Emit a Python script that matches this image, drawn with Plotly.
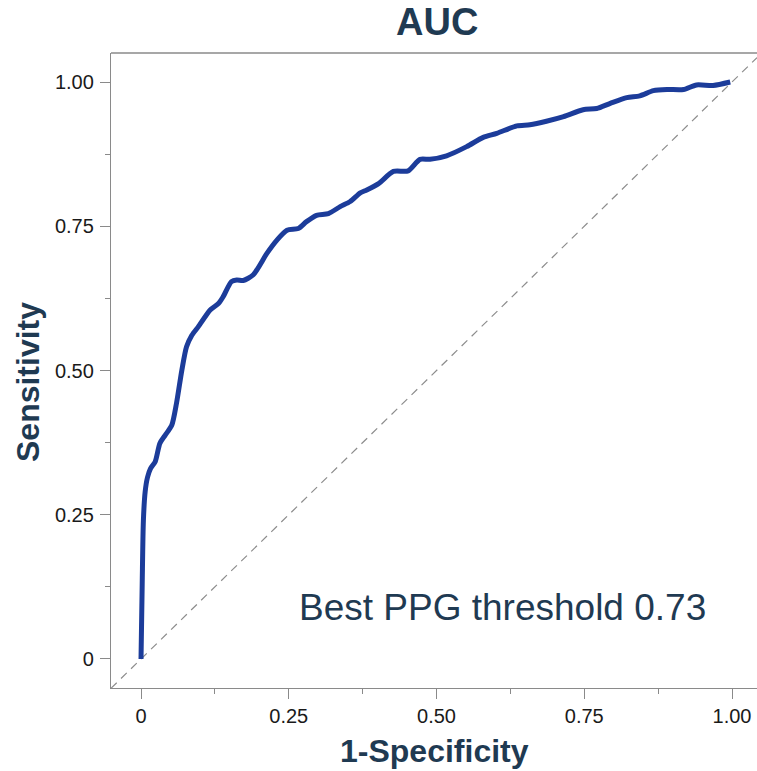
import plotly.graph_objects as go

# ROC curve points (false positive rate, true positive rate)
fpr = [0.000, 0.002, 0.004, 0.007, 0.011, 0.016, 0.024, 0.032, 0.041, 0.052,
       0.060, 0.069, 0.077, 0.086, 0.097, 0.117, 0.131, 0.139, 0.153, 0.162,
       0.173, 0.190, 0.213, 0.230, 0.247, 0.266, 0.280, 0.297, 0.317, 0.337,
       0.354, 0.371, 0.382, 0.402, 0.427, 0.452, 0.472, 0.489, 0.517, 0.551,
       0.579, 0.602, 0.636, 0.658, 0.686, 0.715, 0.748, 0.771, 0.794, 0.822,
       0.844, 0.867, 0.890, 0.918, 0.940, 0.968, 0.997]
tpr = [0.000, 0.130, 0.240, 0.290, 0.315, 0.330, 0.342, 0.374, 0.388, 0.405,
       0.443, 0.500, 0.541, 0.561, 0.576, 0.605, 0.616, 0.628, 0.654, 0.657,
       0.656, 0.666, 0.703, 0.726, 0.743, 0.746, 0.758, 0.769, 0.772, 0.784,
       0.793, 0.808, 0.813, 0.824, 0.845, 0.846, 0.866, 0.866, 0.872, 0.888,
       0.904, 0.911, 0.924, 0.926, 0.932, 0.940, 0.952, 0.954, 0.963, 0.973,
       0.976, 0.985, 0.987, 0.987, 0.995, 0.994, 1.000]

tick_vals = [0, 0.25, 0.5, 0.75, 1.0]
tick_text = ["0", "0.25", "0.50", "0.75", "1.00"]

x_range = [-0.0508, 1.0423]
y_range = [-0.0503, 1.0503]

title_text = "AUC"
x_title = "1-Specificity"
y_title = "Sensitivity"
note_text = "Best PPG threshold 0.73"

FONT = "Liberation Sans, Arial, sans-serif"
NAVY = "#1f3a52"
AXIS_GREY = "#8a8a8a"

W, H = 757, 771
M_L, M_R, M_T, M_B = 111, 0, 53, 83
plot_w = W - M_L - M_R
plot_h = H - M_T - M_B


def px_x(px):
    """Horizontal page pixel -> paper fraction."""
    return (px - M_L) / plot_w


def px_y(py):
    """Vertical page pixel -> paper fraction."""
    return (H - M_B - py) / plot_h


fig = go.Figure()

# chance diagonal y = x across the whole plotting area
fig.add_trace(go.Scatter(
    x=x_range, y=x_range, mode="lines",
    line=dict(color="#8c8c8c", width=1.2, dash="8px,6px"),
    hoverinfo="skip",
))

fig.add_trace(go.Scatter(
    x=fpr, y=tpr, mode="lines",
    line=dict(color="#1c3c9a", width=5, shape="spline", smoothing=0.7),
))

fig.add_annotation(
    x=0.611, y=0.09, xref="x", yref="y",
    text=note_text, showarrow=False,
    font=dict(family=FONT, size=37, color=NAVY),
    xanchor="center", yanchor="middle",
)

# chart title
fig.add_annotation(
    x=px_x(437), y=px_y(22), xref="paper", yref="paper",
    text="<b>" + title_text + "</b>", showarrow=False,
    font=dict(family=FONT, size=38, color=NAVY),
    xanchor="center", yanchor="middle",
)

# axis titles
fig.add_annotation(
    x=px_x(28), y=px_y(382), xref="paper", yref="paper",
    text="<b>" + y_title + "</b>", showarrow=False, textangle=-90,
    font=dict(family=FONT, size=32, color=NAVY),
    xanchor="center", yanchor="middle",
)
fig.add_annotation(
    x=px_x(434), y=px_y(751), xref="paper", yref="paper",
    text="<b>" + x_title + "</b>", showarrow=False,
    font=dict(family=FONT, size=32, color=NAVY),
    xanchor="center", yanchor="middle",
)

# top border of the frame
fig.add_shape(type="line", xref="paper", yref="paper", x0=0, x1=1, y0=1, y1=1,
              line=dict(color=AXIS_GREY, width=1.3))

fig.update_xaxes(
    range=x_range, tickvals=tick_vals, ticktext=tick_text,
    showline=True, linecolor=AXIS_GREY, linewidth=1.3,
    showgrid=False, zeroline=False, automargin=False,
    ticks="outside", ticklen=10, tickcolor=AXIS_GREY,
    tickfont=dict(family=FONT, size=20, color="#1a1a1a"),
    minor=dict(dtick=0.125, ticks="outside", ticklen=5, tickcolor=AXIS_GREY,
               showgrid=False),
)
fig.update_yaxes(
    range=y_range, tickvals=tick_vals, ticktext=tick_text,
    showline=True, linecolor=AXIS_GREY, linewidth=1.3,
    showgrid=False, zeroline=False, automargin=False,
    ticks="outside", ticklen=10, tickcolor=AXIS_GREY, ticklabelstandoff=2,
    tickfont=dict(family=FONT, size=20, color="#1a1a1a"),
    minor=dict(dtick=0.125, ticks="outside", ticklen=5, tickcolor=AXIS_GREY,
               showgrid=False),
)

fig.update_layout(
    width=W, height=H,
    margin=dict(l=M_L, r=M_R, t=M_T, b=M_B),
    showlegend=False, plot_bgcolor="white",
)

fig.write_html("out.html")
